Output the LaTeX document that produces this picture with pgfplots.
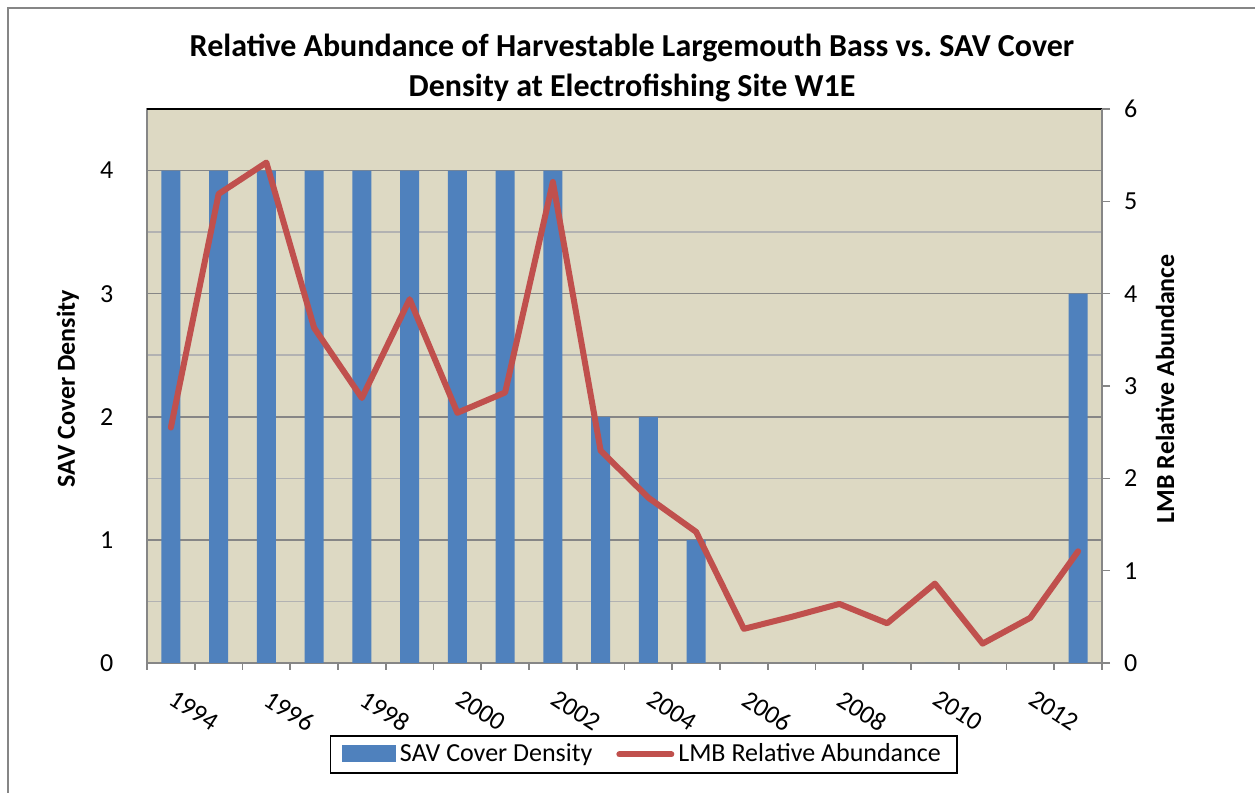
\documentclass[border=0pt]{standalone}
\usepackage{pgfplots}
\pgfplotsset{compat=1.18}
\usepackage{fontspec}
\setmainfont{Carlito}
\definecolor{barblue}{HTML}{4F81BD}
\definecolor{linered}{HTML}{C0504D}
\definecolor{plotbg}{HTML}{DDD9C3}
\definecolor{gridmajor}{HTML}{868686}
\definecolor{gridminor}{HTML}{B2B2B2}
\newcommand{\tickfont}{\fontsize{13}{15}\selectfont}
\begin{document}
\begin{tikzpicture}
\useasboundingbox (-73.5pt,-65pt) rectangle (554pt,331.5pt);
\draw[gridmajor, line width=0.8pt] (-69.5pt,-80pt) -- (-69.5pt,327.5pt) -- (570pt,327.5pt);
\node[font=\bfseries\fontsize{16}{20}\selectfont, align=center] at (242.5pt,297.5pt)
  {Relative Abundance of Harvestable Largemouth Bass vs.\ SAV Cover\\Density at Electrofishing Site W1E};
\begin{axis}[
  at={(0,0)}, anchor=south west,
  scale only axis, width=477.5pt, height=277pt,
  xmin=-0.5, xmax=19.5, ymin=0, ymax=4.5,
  axis background/.style={fill=plotbg},
  axis line style={gridmajor, line width=0.8pt},
  ytick={0,1,2,3,4},
  minor ytick={0.5,1.5,2.5,3.5},
  ymajorgrids, yminorgrids,
  major grid style={gridmajor, line width=0.8pt},
  minor grid style={gridminor, line width=0.8pt},
  xtick={0,2,4,6,8,10,12,14,16,18},
  xticklabels={1994,1996,1998,2000,2002,2004,2006,2008,2010,2012},
  minor xtick={-0.5,0.5,...,19.5},
  tick pos=left, tick align=outside,
  every major x tick/.append style={draw=none},
  every major y tick/.append style={draw=none},
  every minor y tick/.append style={draw=none},
  every minor x tick/.append style={gridmajor, line width=0.8pt},
  minor tick length=3.5pt,
  xticklabel style={font=\tickfont, xshift=2pt, yshift=-4pt, rotate=-33, anchor=north west},
  yticklabel style={font=\tickfont, xshift=-9pt},
  /pgf/number format/assume math mode=true,
  ylabel={\bfseries SAV Cover Density},
  ylabel style={font=\fontsize{13}{15}\selectfont, at={(axis description cs:-0.083,0.495)}, anchor=center},
]
\addplot[ybar, bar width=0.4, fill=barblue, draw=none] coordinates {
(0,4) (1,4) (2,4) (3,4) (4,4) (5,4) (6,4) (7,4) (8,4) (9,2)
(10,2) (11,1) (12,0) (13,0) (14,0) (15,0) (16,0) (17,0) (18,0) (19,3)
};
\draw[black, line width=1pt] (rel axis cs:0,1) -- (rel axis cs:1,1);
\end{axis}
\begin{axis}[
  at={(0,0)}, anchor=south west,
  scale only axis, width=477.5pt, height=277pt,
  xmin=-0.5, xmax=19.5, ymin=0, ymax=6,
  axis x line=none, axis y line*=right,
  axis line style={gridmajor, line width=0.8pt},
  ytick={0,1,2,3,4,5,6},
  tick align=outside, major tick length=4pt,
  every major y tick/.append style={gridmajor, line width=0.8pt},
  yticklabel style={font=\tickfont, xshift=3.5pt},
  /pgf/number format/assume math mode=true,
  ylabel={\bfseries LMB Relative Abundance},
  ylabel style={font=\fontsize{13}{15}\selectfont, at={(axis description cs:1.066,0.495)}, anchor=center, rotate=0},
  legend style={at={(0.52,-0.165)}, anchor=center, draw=black, line width=0.8pt,
    font=\fontsize{13}{15}\selectfont, legend columns=2,
    /tikz/every even column/.append style={column sep=10pt},
    inner xsep=6pt, inner ysep=2pt},
  legend cell align=left,
]
\addlegendimage{legend image code/.code={\fill[barblue] (0pt,-3.5pt) rectangle (26pt,4.5pt);}}
\addlegendentry{SAV Cover Density}
\addplot[linered, line width=3pt, line join=round, line cap=round,
  legend image code/.code={\draw[linered, line width=3pt, line cap=round] (0pt,0pt) -- (26pt,0pt);}] coordinates {
(0,2.55) (1,5.08) (2,5.42) (3,3.63) (4,2.87) (5,3.94) (6,2.71) (7,2.93) (8,5.21) (9,2.30)
(10,1.79) (11,1.42) (12,0.37) (13,0.50) (14,0.64) (15,0.43) (16,0.86) (17,0.21) (18,0.49) (19,1.21)
};
\addlegendentry{LMB Relative Abundance}
\end{axis}
\end{tikzpicture}
\end{document}
